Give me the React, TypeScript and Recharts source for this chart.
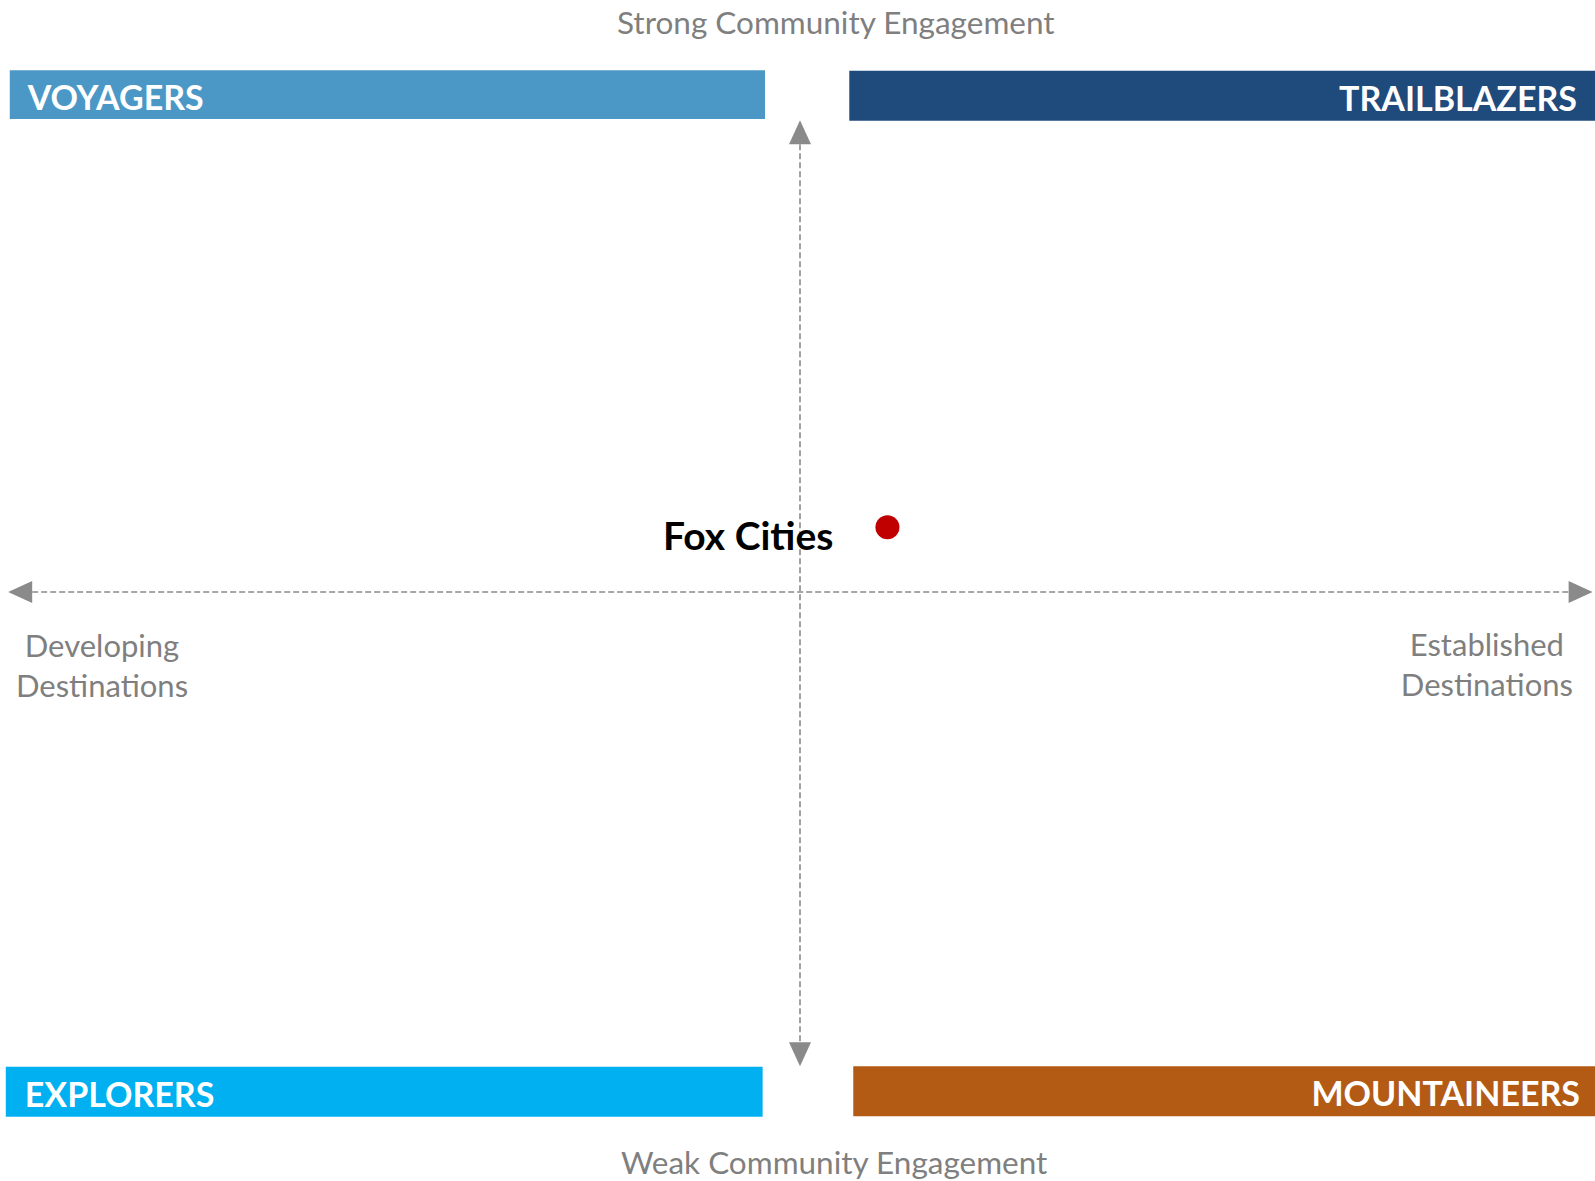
import { ScatterChart, Scatter, XAxis, YAxis, ReferenceLine, ReferenceArea, ReferenceDot } from "recharts"

// the one plotted destination
const cities = [{ name: "Fox Cities", x: 1.1, y: 1.1 }]

// quadrant banners: top-left, top-right, bottom-left, bottom-right
const quadrantNames = ["VOYAGERS", "TRAILBLAZERS", "EXPLORERS", "MOUNTAINEERS"]

const yAxisLabels = ["Strong Community Engagement", "Weak Community Engagement"]
const xAxisLabels = [
  ["Developing", "Destinations"],
  ["Established", "Destinations"],
]

const QUADRANT_COLORS = ["#4b98c7", "#1f4a7c", "#00b0f0", "#b35a15"]
const AXIS_GRAY = "#8a8a8a"
const TEXT_GRAY = "#7f7f7f"
const FONT = "Lato, 'Open Sans', sans-serif"

function ArrowLine(props: any) {
  const { x1, y1, x2, y2 } = props
  const len = Math.hypot(x2 - x1, y2 - y1)
  const ux = (x2 - x1) / len
  const uy = (y2 - y1) / len
  const head = 24
  const half = 11
  const arrow = (tx: number, ty: number, dx: number, dy: number) => {
    const bx = tx - dx * head
    const by = ty - dy * head
    return `${tx},${ty} ${bx - dy * half},${by + dx * half} ${bx + dy * half},${by - dx * half}`
  }
  return (
    <g>
      <line
        x1={x1 + ux * head}
        y1={y1 + uy * head}
        x2={x2 - ux * head}
        y2={y2 - uy * head}
        stroke={AXIS_GRAY}
        strokeWidth={1.6}
        strokeDasharray="6 3"
      />
      <polygon points={arrow(x1, y1, -ux, -uy)} fill={AXIS_GRAY} />
      <polygon points={arrow(x2, y2, ux, uy)} fill={AXIS_GRAY} />
    </g>
  )
}

function CityDot(props: any) {
  const { cx, cy, payload } = props
  return (
    <g>
      <text
        x={cx - 54}
        y={cy + 23}
        textAnchor="end"
        fontFamily={FONT}
        fontWeight={700}
        fontSize={39}
        fill="#000"
      >
        {payload.name}
      </text>
      <circle cx={cx} cy={cy} r={12} fill="#c00000" />
    </g>
  )
}

const centeredText = (value: string) => (p: any) => (
  <text
    x={p.cx}
    y={p.cy}
    textAnchor="middle"
    dominantBaseline="central"
    fontFamily={FONT}
    fontSize={31.5}
    fill={TEXT_GRAY}
  >
    {value}
  </text>
)

const twoLineText = (lines: string[]) => (p: any) => (
  <text x={p.cx} y={p.cy} textAnchor="middle" fontFamily={FONT} fontSize={31} fill={TEXT_GRAY}>
    {lines.map((l, i) => (
      <tspan key={i} x={p.cx} dy={i === 0 ? 0 : 40} dominantBaseline="central">
        {l}
      </tspan>
    ))}
  </text>
)

const bannerLabel = (value: string, position: "insideLeft" | "insideRight", offset: number) => ({
  value,
  position,
  offset,
  dy: 3,
  fill: "#ffffff",
  fontSize: 34,
  fontWeight: 700,
  fontFamily: FONT,
})

export default function App() {
  return (
    <div style={{ position: "absolute", left: 0, top: 0, width: 1595, height: 1181, background: "#fff" }}>
      <ScatterChart width={1595} height={1181} margin={{ top: 3, right: 0, bottom: 0, left: 5 }}>
        <XAxis type="number" dataKey="x" domain={[-10, 10]} hide />
        <YAxis type="number" dataKey="y" domain={[-10, 10]} hide />

        <ReferenceArea
          x1={-9.94}
          x2={-0.44}
          y1={8.03}
          y2={8.86}
          fill={QUADRANT_COLORS[0]}
          fillOpacity={1}
          ifOverflow="visible"
          label={bannerLabel(quadrantNames[0], "insideLeft", 18)}
        />
        <ReferenceArea
          x1={0.62}
          x2={10}
          y1={8.0}
          y2={8.85}
          fill={QUADRANT_COLORS[1]}
          fillOpacity={1}
          ifOverflow="visible"
          label={bannerLabel(quadrantNames[1], "insideRight", 18)}
        />
        <ReferenceArea
          x1={-9.99}
          x2={-0.47}
          y1={-8.91}
          y2={-8.06}
          fill={QUADRANT_COLORS[2]}
          fillOpacity={1}
          ifOverflow="visible"
          label={bannerLabel(quadrantNames[2], "insideLeft", 19)}
        />
        <ReferenceArea
          x1={0.67}
          x2={10}
          y1={-8.9}
          y2={-8.05}
          fill={QUADRANT_COLORS[3]}
          fillOpacity={1}
          ifOverflow="visible"
          label={bannerLabel(quadrantNames[3], "insideRight", 15)}
        />

        <ReferenceLine
          segment={[{ x: 0, y: 8.01 }, { x: 0, y: -8.05 }]}
          ifOverflow="visible"
          shape={ArrowLine}
        />
        <ReferenceLine
          segment={[{ x: -9.96, y: 0 }, { x: 9.97, y: 0 }]}
          ifOverflow="visible"
          shape={ArrowLine}
        />

        <ReferenceDot x={0.45} y={9.68} r={0} ifOverflow="visible" shape={centeredText(yAxisLabels[0])} />
        <ReferenceDot x={0.43} y={-9.68} r={0} ifOverflow="visible" shape={centeredText(yAxisLabels[1])} />
        <ReferenceDot x={-8.78} y={-0.9} r={0} ifOverflow="visible" shape={twoLineText(xAxisLabels[0])} />
        <ReferenceDot x={8.64} y={-0.88} r={0} ifOverflow="visible" shape={twoLineText(xAxisLabels[1])} />

        <Scatter data={cities} isAnimationActive={false} shape={CityDot} />
      </ScatterChart>
    </div>
  )
}
